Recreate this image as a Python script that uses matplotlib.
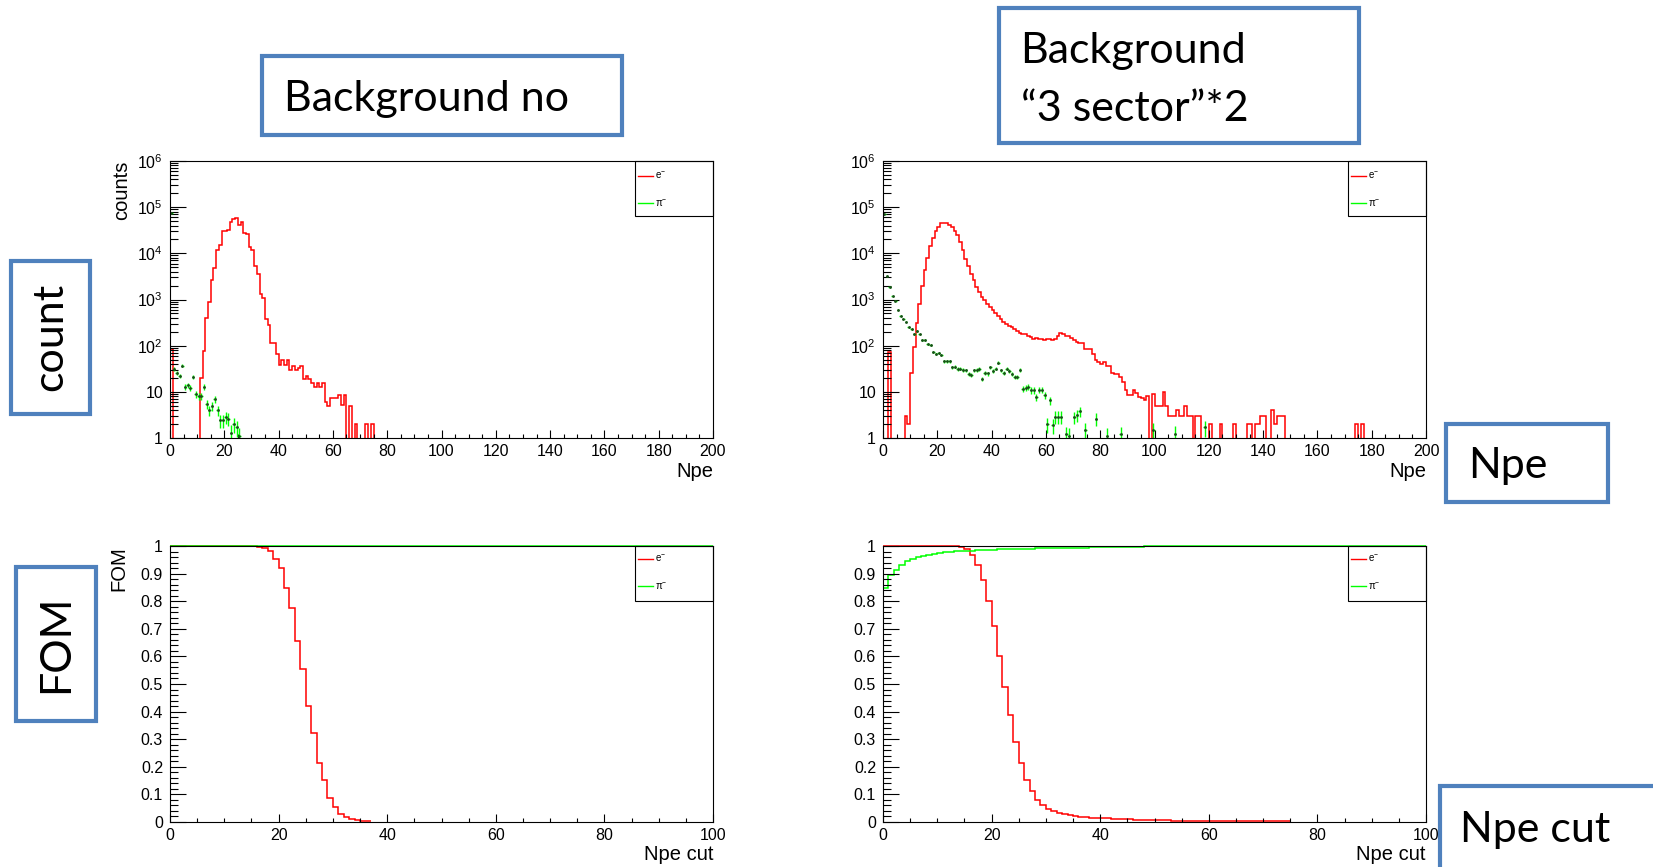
import numpy as np
import matplotlib
matplotlib.use("Agg")
import matplotlib.pyplot as plt
from matplotlib.patches import Rectangle
from matplotlib.ticker import (FixedLocator, FixedFormatter, MultipleLocator,
                               LogLocator, NullFormatter)

# ---------------- data: bins of width 1 Npe starting at 0 ----------------
# top left: Npe spectrum, no background
tl_e = [85] + [0] * 10 + [
    20, 76, 400, 890, 2700, 4700, 11700, 15000, 31000, 31000,
    32000, 48000, 55000, 59000, 42000, 47000, 27000, 26000, 14000, 12000,
    5300, 3500, 1320, 1100, 370, 280, 115, 115, 66, 39,
    48, 39, 48, 30, 37, 30, 33, 36, 19, 22,
    19, 15.5, 12.8, 15.5, 12.8, 15.5, 6, 5, 7.4, 7.4,
    7.4, 8.7, 5.3, 8.7, 0, 5, 0, 2, 0, 0,
    0, 2, 0, 2]
tl_pi_bin = list(range(0, 26))
tl_pi = [75000, 31, 26, 22, 37, 13, 14, 12, 21, 9, 8, 8, 13, 5.5, 4, 5, 7, 4,
         2.4, 2.4, 2.8, 2.6, 1.3, 2, 1.7, 1.1]

# top right: Npe spectrum, background "3 sector"*2
tr_e = [0, 0, 72, 0, 0, 0, 0, 0, 3, 2,
        25, 93, 310, 810, 2000, 4260, 7950, 14100, 21700, 29800,
        38000, 45000, 46500, 46000, 42000, 37000, 30000, 24500, 17400, 12000,
        7500, 5200, 3600, 2600, 1860, 1440, 1130, 955, 810, 690,
        580, 510, 440, 380, 324, 298, 265, 252, 225, 208,
        192, 182, 175, 165, 155, 141, 146, 137, 137, 130,
        141, 137, 130, 141, 158, 192, 175, 158, 165, 146,
        134, 120, 114, 114, 86, 83, 83, 67, 48, 44,
        41, 44, 37, 37, 26, 24, 24, 21, 16, 10.7,
        8.7, 8.7, 10.7, 9.6, 7.7, 7.4, 6.8, 8.1, 0, 9,
        5, 5, 5, 10, 5, 3, 3, 3, 4, 3,
        3, 5, 3, 3, 0, 3, 3, 0, 0, 0,
        2, 0, 0, 0, 2, 0, 0, 0, 0, 2,
        0, 0, 0, 0, 2, 2, 0, 2, 2, 3,
        3, 0, 0, 4, 2, 3, 3, 3, 0, 0,
        0, 0, 0, 0, 0, 0, 0, 0, 0, 0,
        0, 0, 0, 0, 0, 0, 0, 0, 0, 0,
        0, 0, 0, 0, 2, 0, 2, 0]
tr_pi_bin = list(range(0, 66)) + [67, 68, 70, 71, 72, 74, 78, 82, 87, 99, 107, 118]
tr_pi = [70000, 3200, 1900, 1200, 950, 600, 450, 380, 330, 250,
         230, 180, 208, 175, 134, 134, 107, 105, 73, 67,
         70, 63, 46, 46, 46, 34, 35, 31, 32, 30,
         29, 24, 23, 29, 30, 31, 19, 26, 25, 34,
         28, 32, 43, 29, 26, 32, 28, 24, 21, 21,
         30, 11.7, 12, 12.7, 10.8, 10.8, 7.7, 11, 11, 8.4,
         2.0, 6.5, 1.9, 2.9, 2.9, 2.9,
         1.2, 1.1, 2.8, 3.1, 3.8, 1.5, 2.6, 1.1, 1.2, 1.5, 1.25, 1.7]
pi_weight = 0.25   # event weight used for the pion error bars

# bottom: FOM versus Npe cut
bl_e = [1.0] * 16 + [0.998, 0.993, 0.981, 0.952, 0.920, 0.849, 0.777, 0.656,
                     0.556, 0.419, 0.322, 0.215, 0.151, 0.087, 0.054, 0.030,
                     0.018, 0.012, 0.009, 0.005, 0.003] + [0.0] * 63
bl_pi = [1.0] * 100
br_e = [1.0] * 14 + [0.996, 0.990, 0.966, 0.930, 0.876, 0.801, 0.709, 0.601,
                     0.489, 0.386, 0.290, 0.214, 0.153, 0.112, 0.081, 0.060,
                     0.048, 0.040, 0.033, 0.028, 0.024, 0.021, 0.018, 0.018,
                     0.016, 0.016, 0.013, 0.013, 0.012, 0.012, 0.010, 0.010,
                     0.008, 0.008, 0.008, 0.008, 0.006, 0.006, 0.006] \
    + [0.004] * 11 + [0.003] * 11 + [0.0] * 25
br_pi = [0.848, 0.894, 0.914, 0.930, 0.944, 0.954, 0.960, 0.965, 0.969, 0.972,
         0.976, 0.978, 0.978, 0.981, 0.981, 0.983, 0.983] + [0.987] * 4 \
    + [0.990] * 7 + [0.994] * 10 + [0.998] * 10 + [1.0] * 52

log_ticks = [1, 10, 100, 1e3, 1e4, 1e5, 1e6]
log_labels = ['1', '10', '$10^{2}$', '$10^{3}$', '$10^{4}$', '$10^{5}$', '$10^{6}$']
fom_ticks = [0, 0.1, 0.2, 0.3, 0.4, 0.5, 0.6, 0.7, 0.8, 0.9, 1.0]
fom_labels = ['0', '0.1', '0.2', '0.3', '0.4', '0.5', '0.6', '0.7', '0.8', '0.9', '1']

RED = '#ff0000'
GREEN = '#00ff00'
BLUE = '#4f81bd'

plt.rcParams['font.family'] = ['Liberation Sans', 'DejaVu Sans']
plt.rcParams['mathtext.default'] = 'regular'

W, H = 1653, 867
fig = plt.figure(figsize=(W / 100, H / 100), dpi=100)


def add_ax(l, t, r, b):
    return fig.add_axes([l / W, 1 - b / H, (r - l) / W, (b - t) / H])


def style(ax):
    ax.tick_params(which='both', direction='in', top=False, right=False,
                   labelsize=11.5)
    ax.tick_params(axis='y', which='major', length=11.5, width=0.8, pad=5)
    ax.tick_params(axis='y', which='minor', length=5.8, width=0.8)
    ax.tick_params(axis='x', which='major', length=5.8, width=0.8, pad=4)
    ax.tick_params(axis='x', which='minor', length=2.9, width=0.8)
    for s in ax.spines.values():
        s.set_linewidth(0.8)


def legend(ax, ybot, yr, yg):
    ax.add_patch(Rectangle((0.856, ybot), 0.144, 1 - ybot, transform=ax.transAxes,
                           fill=False, ec='k', lw=0.8, clip_on=False, zorder=5))
    ax.plot([0.861, 0.890], [yr, yr], transform=ax.transAxes, color=RED, lw=1)
    ax.plot([0.861, 0.890], [yg, yg], transform=ax.transAxes, color=GREEN, lw=1)
    ax.text(0.894, yr, '$e^{-}$', transform=ax.transAxes, fontsize=7,
            va='center', ha='left')
    ax.text(0.894, yg, r'$\pi^{-}$', transform=ax.transAxes, fontsize=7,
            va='center', ha='left')


def spectrum(ax, e_vals, pi_bin, pi_vals, ylab):
    e = np.zeros(200)
    e[:len(e_vals)] = e_vals
    e = np.where(e > 0, e, 0.3)
    ax.stairs(e, np.arange(201), baseline=None, color=RED, lw=1.1)
    x = np.array(pi_bin) + 0.5
    v = np.array(pi_vals, float)
    err = np.sqrt(pi_weight * v)
    ax.errorbar(x, v, yerr=[np.minimum(err, v * 0.999), err], xerr=0.5,
                fmt='o', ms=1.0, mfc='#1a4d1a', mec='#1a4d1a', ecolor=GREEN,
                elinewidth=1, capsize=0)
    ax.set_yscale('log')
    ax.set_xlim(0, 200)
    ax.set_ylim(1, 1e6)
    ax.yaxis.set_major_locator(FixedLocator(log_ticks))
    ax.yaxis.set_major_formatter(FixedFormatter(log_labels))
    ax.yaxis.set_minor_locator(LogLocator(base=10, subs=np.arange(2, 10)))
    ax.yaxis.set_minor_formatter(NullFormatter())
    ax.xaxis.set_major_locator(MultipleLocator(20))
    ax.xaxis.set_minor_locator(MultipleLocator(5))
    style(ax)
    ax.text(1.0, -0.088, 'Npe', transform=ax.transAxes, ha='right', va='top',
            fontsize=14.5)
    if ylab:
        ax.text(-0.09, 1.0, ylab, transform=ax.transAxes, rotation=90,
                ha='center', va='top', fontsize=14.5)
    legend(ax, 0.80, 0.947, 0.847)


def fom(ax, e_vals, pi_vals, ylab):
    for vals, col in ((e_vals, RED), (pi_vals, GREEN)):
        vals = np.asarray(vals, float)
        n = np.nonzero(vals)[0].max() + 1     # ROOT line stops at last filled bin
        ax.stairs(vals[:n], np.arange(n + 1), baseline=None, color=col,
                  lw=1.1, clip_on=False)
    ax.set_xlim(0, 100)
    ax.set_ylim(0, 1)
    ax.yaxis.set_major_locator(FixedLocator(fom_ticks))
    ax.yaxis.set_major_formatter(FixedFormatter(fom_labels))
    ax.yaxis.set_minor_locator(MultipleLocator(0.02))
    ax.xaxis.set_major_locator(MultipleLocator(20))
    ax.xaxis.set_minor_locator(MultipleLocator(5))
    style(ax)
    ax.text(1.0, -0.085, 'Npe cut', transform=ax.transAxes, ha='right', va='top',
            fontsize=14.5)
    if ylab:
        ax.text(-0.094, 1.0, ylab, transform=ax.transAxes, rotation=90,
                ha='center', va='top', fontsize=14.5)
    legend(ax, 0.80, 0.954, 0.855)


ax_tl = add_ax(170, 161, 713, 438)
ax_tr = add_ax(883, 161, 1426, 438)
ax_bl = add_ax(170, 546, 713, 822)
ax_br = add_ax(883, 546, 1426, 822)

spectrum(ax_tl, tl_e, tl_pi_bin, tl_pi, 'counts')
spectrum(ax_tr, tr_e, tr_pi_bin, tr_pi, None)
fom(ax_bl, bl_e, bl_pi, 'FOM')
fom(ax_br, br_e, br_pi, None)


# ---------------- slide annotations ----------------
def box(l, t, r, b):
    fig.add_artist(Rectangle((l / W, 1 - b / H), (r - l) / W, (b - t) / H,
                             transform=fig.transFigure, fill=False, ec=BLUE,
                             lw=3, clip_on=False))


def label(x, y, s, **kw):
    fig.text(x / W, 1 - y / H, s, family=['Lato', 'DejaVu Sans'], fontsize=31,
             va='center', **kw)


box(262, 56, 622, 135)
label(284, 99, 'Background no')
box(999, 8, 1359, 143)
label(1020, 51, 'Background')
label(1021, 109, '\u201c3 sector\u201d*2')
box(11, 261, 90, 414)
label(50, 337, 'count', rotation=90, ha='center')
box(16, 567, 96, 721)
label(56, 644, 'FOM', rotation=90, ha='center')
box(1446, 424, 1608, 502)
label(1468, 466, 'Npe')
box(1440, 786, 1670, 880)
label(1460, 830, 'Npe cut')

fig.savefig('out.png', dpi=100)
